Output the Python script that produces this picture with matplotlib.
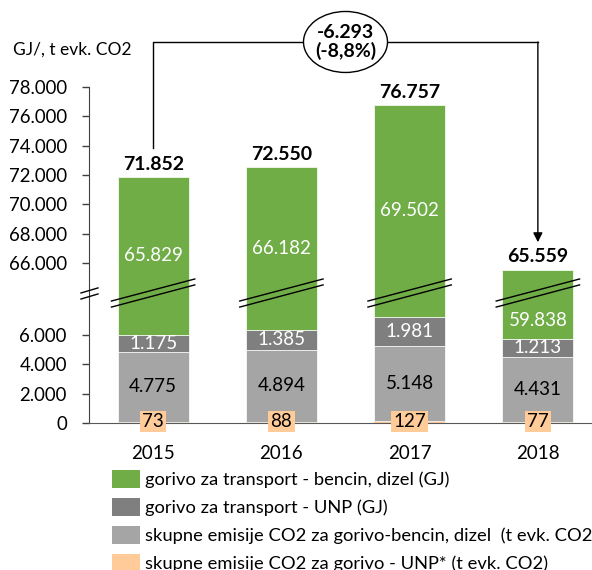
import numpy as np
import matplotlib
matplotlib.use("Agg")
import matplotlib.pyplot as plt
from matplotlib.patches import Patch, Ellipse
from matplotlib.transforms import blended_transform_factory

plt.rcParams['font.family'] = ['Lato', 'DejaVu Sans']

years = ['2015', '2016', '2017', '2018']
co2_unp = [73, 88, 127, 77]
co2_fuel = [4775, 4894, 5148, 4431]
fuel_unp = [1175, 1385, 1981, 1213]
fuel_petrol_diesel = [65829, 66182, 69502, 59838]
totals = [71852, 72550, 76757, 65559]
change_text = '-6.293\n(-8,8%)'

series_labels = [
    'gorivo za transport - bencin, dizel (GJ)',
    'gorivo za transport - UNP (GJ)',
    'skupne emisije CO2 za gorivo-bencin, dizel  (t evk. CO2)',
    'skupne emisije CO2 za gorivo - UNP* (t evk. CO2)',
]
yticks = [0, 2000, 4000, 6000, 66000, 68000, 70000, 72000, 74000, 76000, 78000]

C_GREEN = '#70AD47'
C_UNP = '#7F7F7F'
C_CO2 = '#A5A5A5'
C_ORANGE = '#FFCC99'

# broken value axis: linear below 7.500 and above 64.000, squeezed in between
LO, HI, SHIFT = 7500.0, 64000.0, 55100.0
MID = (HI - SHIFT - LO) / (HI - LO)


def fwd(v):
    v = np.asarray(v, dtype=float)
    return np.where(v <= LO, v, np.where(v >= HI, v - SHIFT, LO + (v - LO) * MID))


def inv(f):
    f = np.asarray(f, dtype=float)
    return np.where(f <= LO, f, np.where(f >= HI - SHIFT, f + SHIFT, LO + (f - LO) / MID))


def fmt(v):
    return f"{v:,}".replace(',', '.')


fig = plt.figure(figsize=(5.92, 5.70), dpi=100)
ax = fig.add_axes([89 / 592, 1 - 423 / 570, 513 / 592, 336 / 570])
ax.set_yscale('function', functions=(fwd, inv))
ax.set_ylim(0, 78000)
ax.set_xlim(-0.5, 3.5)

x = np.arange(len(years))
w = 0.553
b1 = np.array(co2_unp, float)
b2 = b1 + np.array(co2_fuel)
b3 = b2 + np.array(fuel_unp)

ax.bar(x, co2_unp, w, color=C_ORANGE, edgecolor='none', zorder=2)
ax.bar(x, co2_fuel, w, bottom=b1, color=C_CO2, edgecolor='white', linewidth=0.5, zorder=2)
ax.bar(x, fuel_unp, w, bottom=b2, color=C_UNP, edgecolor='white', linewidth=0.5, zorder=2)
ax.bar(x, fuel_petrol_diesel, w, bottom=b3, color=C_GREEN, edgecolor='white', linewidth=0.5, zorder=2)

fs = 13.5
for i in range(len(years)):
    # totals above the bars
    ax.annotate(fmt(totals[i]), (x[i], totals[i]), xytext=(0, 3), textcoords='offset points',
                ha='center', va='bottom', fontsize=14, fontweight='bold', color='black')
    # green segment label at the middle of the drawn segment
    f_lo, f_hi = fwd(b3[i]), fwd(totals[i])
    if i == len(years) - 1:
        ymid = inv(f_lo + 1250)
    else:
        ymid = inv((f_lo + f_hi) / 2)
    ax.text(x[i], float(ymid), fmt(fuel_petrol_diesel[i]), ha='center', va='center',
            fontsize=fs, color='white')
    ax.text(x[i], (b2[i] + b3[i]) / 2, fmt(fuel_unp[i]), ha='center', va='center',
            fontsize=fs, color='white')
    ax.text(x[i], (b1[i] + b2[i]) / 2, fmt(co2_fuel[i]), ha='center', va='center',
            fontsize=fs, color='black')
    ax.annotate(fmt(co2_unp[i]), (x[i], 0), xytext=(0, 1), textcoords='offset points',
                ha='center', va='center', fontsize=fs, color='black', zorder=5,
                bbox=dict(boxstyle='square,pad=0.12', facecolor=C_ORANGE, edgecolor='none'))

# axes styling
for s in ('top', 'right'):
    ax.spines[s].set_visible(False)
ax.spines['left'].set_color('#404040')
ax.spines['bottom'].set_color('#595959')
ax.spines['left'].set_zorder(1)
ax.spines['bottom'].set_zorder(3)
ax.set_yticks(yticks)
ax.set_yticklabels([fmt(v) for v in yticks])
ax.yaxis.set_minor_locator(matplotlib.ticker.NullLocator())
ax.tick_params(axis='y', length=5, width=1, color='#404040', labelsize=13.4, pad=11)
ax.set_xticks(x)
ax.set_xticklabels(years)
ax.tick_params(axis='x', length=0, labelsize=13.5, pad=16)

# break marks on the value axis and across the bars
ax.plot([-0.0156, 0.0175], [0.387, 0.402], transform=ax.transAxes, color='black', lw=1, clip_on=False, zorder=4)
ax.plot([-0.0156, 0.0175], [0.369, 0.384], transform=ax.transAxes, color='black', lw=1, clip_on=False, zorder=4)
bt = blended_transform_factory(ax.transData, ax.transAxes)
for xi in x:
    ax.plot([xi - 0.325, xi + 0.325], [0.363, 0.4286], transform=bt, color='black', lw=1, zorder=4)
    ax.plot([xi - 0.325, xi + 0.325], [0.345, 0.411], transform=bt, color='black', lw=1, zorder=4)

# change bracket from the first to the last year
ytop = 1.134
ax.plot([x[0], x[0], x[-1]], [0.818, ytop, ytop], transform=bt, color='black', lw=1, clip_on=False)
ax.annotate('', xy=(x[-1], 0.538), xycoords=bt, xytext=(x[-1], ytop), textcoords=bt,
            arrowprops=dict(arrowstyle='-|>', color='black', lw=1, mutation_scale=14,
                            shrinkA=0, shrinkB=0), annotation_clip=False)
ell = Ellipse(((x[0] + x[-1]) / 2, ytop), 0.655, 0.1815, transform=bt, facecolor='white',
              edgecolor='black', lw=1, clip_on=False, zorder=6)
ax.add_patch(ell)
ax.text((x[0] + x[-1]) / 2, ytop, change_text,
        transform=bt, ha='center', va='center', fontsize=14, fontweight='bold',
        linespacing=1.0, zorder=7, clip_on=False)

fig.text(13 / 592, 1 - 50 / 570, 'GJ/, t evk. CO2', ha='left', va='center', fontsize=12.5)

handles = [Patch(facecolor=c, edgecolor='none') for c in (C_GREEN, C_UNP, C_CO2, C_ORANGE)]
fig.legend(handles, series_labels, loc='upper left', bbox_to_anchor=(112 / 592, 1 - 470 / 570),
           frameon=False, fontsize=13.2, handlelength=1.53, handleheight=1.15, handletextpad=0.28,
           labelspacing=0.53, borderpad=0, borderaxespad=0)

fig.savefig('out.png', dpi=100)
